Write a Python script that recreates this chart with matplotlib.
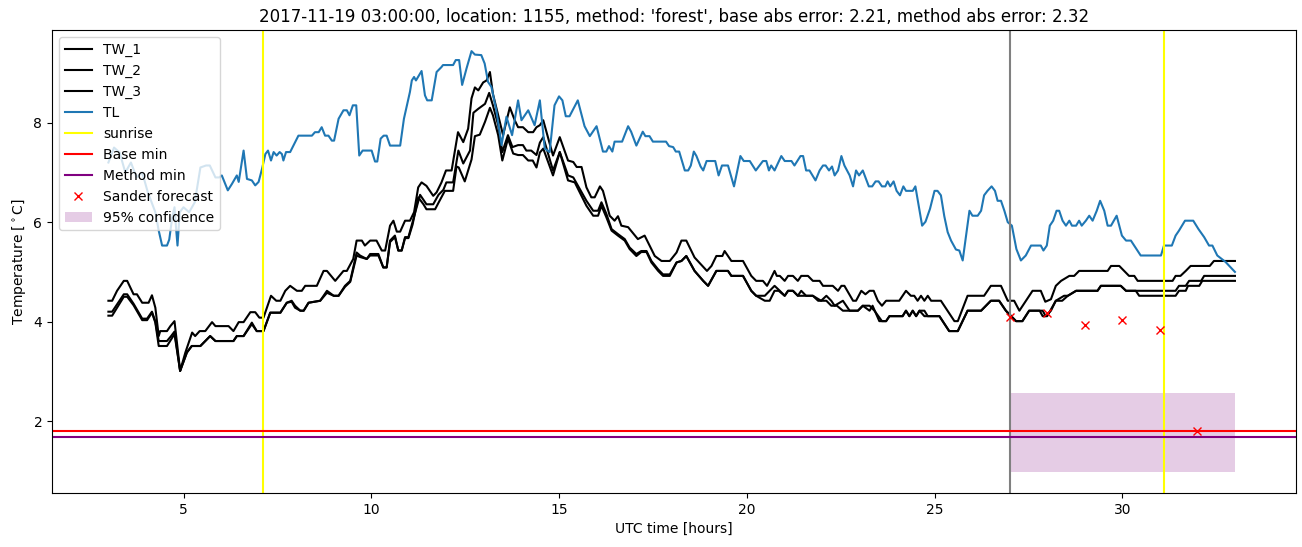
import matplotlib
matplotlib.use("Agg")
import matplotlib.pyplot as plt

# ---------------- data ----------------
tl_hours = [3.00, 3.15, 3.30, 3.45, 3.60, 3.75, 3.90, 4.05, 4.15, 4.25, 4.34, 4.43, 4.56, 4.62, 4.70, 4.76,
            4.80, 4.84, 4.90, 5.00, 5.15, 5.30, 5.45, 5.60, 5.70, 5.85, 5.95, 6.02, 6.18, 6.29, 6.42, 6.47,
            6.60, 6.69, 6.82, 6.91, 7.00, 7.09, 7.18, 7.25, 7.33, 7.40, 7.48, 7.56, 7.62, 7.66, 7.73, 7.84,
            8.06, 8.42, 8.50, 8.60, 8.68, 8.77, 8.86, 8.95, 9.01, 9.13, 9.26, 9.35, 9.42, 9.51, 9.60, 9.68,
            9.77, 10.01, 10.10, 10.16, 10.25, 10.33, 10.41, 10.50, 10.77, 10.87, 11.03, 11.08, 11.14, 11.19,
            11.34, 11.43, 11.49, 11.61, 11.74, 11.87, 11.91, 12.18, 12.25, 12.34, 12.42, 12.54, 12.67, 12.76,
            12.93, 13.02, 13.11, 13.20, 13.33, 13.47, 13.60, 13.75, 13.91, 14.00, 14.18, 14.35, 14.49, 14.62,
            14.75, 14.88, 15.00, 15.09, 15.18, 15.28, 15.50, 15.68, 15.82, 16.00, 16.17, 16.26, 16.33, 16.42,
            16.48, 16.68, 16.84, 16.92, 17.06, 17.23, 17.30, 17.41, 17.50, 17.85, 17.93, 18.04, 18.11, 18.20,
            18.35, 18.44, 18.51, 18.59, 18.66, 18.77, 18.84, 18.93, 19.16, 19.25, 19.34, 19.50, 19.66, 19.83,
            19.92, 20.08, 20.24, 20.43, 20.52, 20.59, 20.65, 20.74, 20.92, 21.01, 21.19, 21.27, 21.43, 21.50,
            21.58, 21.67, 21.83, 21.94, 22.03, 22.10, 22.19, 22.27, 22.34, 22.43, 22.52, 22.60, 22.74, 22.83,
            22.91, 22.99, 23.09, 23.25, 23.34, 23.43, 23.51, 23.60, 23.69, 23.75, 23.82, 23.91, 23.99, 24.08,
            24.17, 24.24, 24.42, 24.49, 24.58, 24.67, 24.76, 24.88, 25.00, 25.08, 25.17, 25.26, 25.35, 25.44,
            25.57, 25.66, 25.75, 25.84, 25.93, 26.01, 26.15, 26.24, 26.32, 26.41, 26.52, 26.61, 26.68, 26.77,
            26.86, 26.95, 27.06, 27.18, 27.30, 27.43, 27.57, 27.83, 27.90, 27.99, 28.07, 28.16, 28.25, 28.32,
            28.41, 28.50, 28.59, 28.66, 28.77, 28.85, 28.92, 29.03, 29.12, 29.21, 29.32, 29.41, 29.52, 29.61,
            29.70, 29.85, 29.99, 30.10, 30.23, 30.49, 31.03, 31.11, 31.32, 31.42, 31.51, 31.67, 31.89, 32.03,
            32.18, 32.31, 32.40, 32.53, 32.75, 33.00]
tl_values = [7.20, 7.50, 7.40, 7.00, 7.20, 6.90, 7.00, 6.60, 6.40, 6.20, 5.83, 5.53, 5.53, 5.65, 6.10, 6.30,
             5.90, 5.53, 6.20, 6.30, 6.20, 6.40, 7.10, 7.14, 7.14, 6.90, 6.90, 6.94, 6.64, 6.77, 6.94, 6.81,
             7.44, 6.87, 6.84, 6.74, 6.81, 7.07, 7.37, 7.44, 7.24, 7.41, 7.34, 7.41, 7.37, 7.24, 7.41, 7.41,
             7.74, 7.74, 7.81, 7.81, 7.91, 7.74, 7.74, 7.64, 7.64, 8.08, 8.25, 8.25, 8.15, 8.35, 8.35, 7.34,
             7.44, 7.44, 7.22, 7.22, 7.68, 7.74, 7.74, 7.54, 7.54, 8.08, 8.62, 8.85, 8.92, 8.85,
             9.04, 8.55, 8.45, 8.45, 9.02, 9.12, 9.16, 9.16, 9.26, 9.26, 8.76, 9.10, 9.44, 9.37,
             9.36, 9.19, 8.82, 8.72, 8.25, 7.55, 8.12, 7.75, 8.45, 8.05, 8.25, 7.95, 8.45, 7.48,
             7.41, 8.35, 8.53, 8.45, 8.13, 8.13, 8.45, 7.93, 7.73, 7.93, 7.42, 7.42, 7.53, 7.42,
             7.62, 7.62, 7.93, 7.82, 7.54, 7.82, 7.73, 7.73, 7.62, 7.62, 7.53, 7.51, 7.42, 7.42,
             7.04, 7.04, 7.14, 7.42, 7.33, 7.12, 7.04, 7.23, 7.23, 6.94, 7.14, 7.14, 6.72, 7.33,
             7.23, 7.23, 7.04, 7.23, 7.23, 7.04, 7.14, 7.04, 7.33, 7.23, 7.23, 7.14, 7.33, 7.33,
             7.04, 7.04, 6.84, 7.04, 7.14, 7.14, 7.04, 7.12, 6.94, 7.04, 7.33, 7.14, 6.94, 6.72,
             7.04, 6.94, 7.04, 6.72, 6.72, 6.82, 6.82, 6.72, 6.72, 6.82, 6.72, 6.82, 6.63, 6.54,
             6.72, 6.63, 6.63, 6.72, 6.33, 5.93, 6.01, 6.27, 6.63, 6.63, 6.54, 6.12, 5.80, 5.63,
             5.45, 5.43, 5.23, 5.73, 6.23, 6.13, 6.13, 6.23, 6.54, 6.63, 6.72, 6.63, 6.43, 6.43,
             6.23, 6.00, 5.93, 5.46, 5.23, 5.33, 5.53, 5.53, 5.43, 5.53, 5.93, 6.03, 6.23, 6.23,
             6.03, 5.93, 6.03, 5.93, 5.93, 6.03, 5.93, 6.03, 6.13, 6.03, 6.23, 6.43, 6.23, 5.93,
             5.93, 6.13, 5.73, 5.63, 5.63, 5.33, 5.33, 5.53, 5.53, 5.73, 5.83, 6.03, 6.03, 5.86,
             5.70, 5.53, 5.53, 5.33, 5.20, 5.00]

tw1_hours = [3.00, 3.10, 3.23, 3.41, 3.50, 3.67, 3.76, 3.90, 4.07, 4.16, 4.25, 4.34, 4.38, 4.56, 4.65, 4.76,
             4.91, 5.05, 5.23, 5.31, 5.43, 5.58, 5.76, 5.85, 6.20, 6.33, 6.47, 6.60, 6.78, 6.91, 7.02, 7.13,
             7.33, 7.47, 7.58, 7.71, 7.84, 8.02, 8.15, 8.24, 8.55, 8.73, 8.82, 9.04, 9.26, 9.35, 9.52, 9.61,
             9.75, 9.83, 9.97, 10.14, 10.28, 10.37, 10.50, 10.59, 10.68, 10.77, 10.90, 11.03, 11.14, 11.25,
             11.34, 11.47, 11.65, 11.74, 11.87, 11.99, 12.14, 12.31, 12.45, 12.58, 12.67, 12.76, 12.85, 12.98,
             13.07, 13.16, 13.24, 13.38, 13.51, 13.69, 13.82, 13.91, 14.04, 14.18, 14.31, 14.40, 14.49, 14.58,
             14.84, 15.02, 15.24, 15.38, 15.47, 15.60, 15.73, 15.86, 15.95, 16.09, 16.17, 16.35, 16.48, 16.57,
             16.66, 16.84, 17.10, 17.28, 17.55, 17.73, 17.95, 18.13, 18.26, 18.39, 18.61, 18.94, 19.06, 19.19,
             19.35, 19.41, 19.59, 19.90, 20.12, 20.25, 20.43, 20.54, 20.61, 20.74, 20.80, 20.88, 21.01, 21.10,
             21.23, 21.36, 21.45, 21.63, 21.76, 21.94, 22.03, 22.29, 22.43, 22.52, 22.60, 22.83, 22.91, 23.05,
             23.16, 23.27, 23.38, 23.49, 23.60, 23.71, 24.06, 24.24, 24.37, 24.46, 24.55, 24.64, 24.73, 24.82,
             24.91, 25.17, 25.53, 25.62, 25.88, 26.32, 26.50, 26.77, 26.95, 27.12, 27.26, 27.61, 27.83, 27.95,
             28.10, 28.23, 28.37, 28.59, 28.72, 28.85, 29.61, 29.70, 29.92, 30.05, 30.18, 30.32, 30.41, 31.34,
             31.42, 31.55, 31.69, 31.82, 32.33, 32.44, 33.00]
tw1_values = [4.42, 4.42, 4.62, 4.82, 4.82, 4.55, 4.55, 4.38, 4.38, 4.53, 4.28, 3.71, 3.81, 3.81, 3.91, 4.01,
              3.01, 3.38, 3.78, 3.71, 3.81, 3.81, 3.99, 3.91, 3.91, 3.81, 3.99, 3.99, 4.19, 4.19, 4.08, 4.08,
              4.52, 4.42, 4.42, 4.62, 4.72, 4.62, 4.62, 4.72, 4.72, 5.02, 5.02, 4.82, 5.02, 5.02, 5.26, 5.63,
              5.63, 5.53, 5.63, 5.63, 5.43, 5.43, 5.93, 6.03, 5.81, 5.81, 6.03, 6.03, 6.20, 6.70,
              6.80, 6.73, 6.53, 6.60, 6.80, 7.04, 7.04, 7.81, 7.61, 7.88, 8.49, 8.71, 8.65, 8.81,
              8.85, 9.02, 8.58, 8.15, 7.75, 8.31, 8.05, 7.91, 7.91, 7.81, 7.81, 7.91, 7.95, 8.05,
              7.34, 7.71, 7.24, 7.21, 7.11, 7.11, 6.70, 6.50, 6.50, 6.72, 6.63, 6.13, 6.03, 6.12,
              5.93, 5.90, 5.66, 5.73, 5.32, 5.22, 5.22, 5.39, 5.63, 5.63, 5.29, 5.02, 5.12, 5.32,
              5.32, 5.42, 5.22, 5.22, 4.92, 4.82, 4.82, 4.72, 4.82, 5.02, 4.92, 4.92, 4.82, 4.92,
              4.92, 4.82, 4.92, 4.92, 4.82, 4.82, 4.72, 4.72, 4.62, 4.72, 4.72, 4.42, 4.42, 4.62,
              4.55, 4.62, 4.62, 4.42, 4.32, 4.42, 4.42, 4.62, 4.52, 4.52, 4.42, 4.52, 4.42, 4.52,
              4.42, 4.42, 4.01, 4.01, 4.52, 4.52, 4.72, 4.72, 4.42, 4.42, 4.22, 4.62, 4.62, 4.40,
              4.45, 4.72, 4.82, 4.92, 4.92, 5.02, 5.02, 5.12, 5.12, 5.02, 4.92, 4.92, 4.82, 4.82,
              4.92, 4.92, 5.02, 5.12, 5.12, 5.22, 5.22]

tw2_hours = [3.00, 3.10, 3.41, 3.50, 3.67, 3.90, 4.03, 4.16, 4.25, 4.34, 4.56, 4.67, 4.76, 4.91, 5.09, 5.22,
             5.45, 5.71, 5.85, 6.33, 6.42, 6.60, 6.82, 6.95, 7.13, 7.31, 7.58, 7.75, 7.88, 7.97, 8.11, 8.20,
             8.33, 8.64, 8.82, 9.00, 9.13, 9.30, 9.44, 9.61, 9.70, 9.88, 9.97, 10.19, 10.32, 10.41, 10.50,
             10.63, 10.72, 10.81, 10.90, 10.99, 11.10, 11.30, 11.47, 11.65, 11.79, 11.92, 12.00, 12.18, 12.32,
             12.45, 12.63, 12.72, 12.85, 13.03, 13.14, 13.24, 13.38, 13.49, 13.64, 13.76, 13.91, 14.04, 14.13,
             14.26, 14.40, 14.49, 14.58, 14.84, 15.02, 15.24, 15.38, 15.73, 15.91, 16.04, 16.13, 16.26, 16.40,
             16.57, 16.75, 16.88, 17.06, 17.19, 17.33, 17.46, 17.64, 17.77, 17.95, 18.13, 18.26, 18.39, 18.61,
             18.84, 18.97, 19.19, 19.50, 19.59, 19.90, 20.12, 20.25, 20.48, 20.74, 20.88, 21.01, 21.10, 21.23,
             21.36, 21.45, 21.58, 21.76, 21.98, 22.12, 22.25, 22.34, 22.56, 22.74, 22.96, 23.09, 23.27, 23.35,
             23.53, 23.71, 23.80, 24.15, 24.24, 24.33, 24.42, 24.51, 24.60, 24.73, 24.82, 25.13, 25.39, 25.62,
             25.88, 26.24, 26.50, 26.72, 26.90, 27.17, 27.34, 27.52, 27.88, 27.96, 28.10, 28.23, 28.45, 28.55,
             28.77, 29.34, 29.43, 29.96, 30.10, 30.36, 30.45, 31.42, 31.51, 31.69, 31.75, 32.05, 32.13, 33.00]
tw2_values = [4.20, 4.20, 4.55, 4.55, 4.36, 4.06, 4.06, 4.20, 4.00, 3.61, 3.61, 3.71, 3.80, 3.01, 3.38, 3.51,
              3.51, 3.71, 3.61, 3.61, 3.71, 3.71, 3.98, 3.81, 3.81, 4.18, 4.18, 4.38, 4.42, 4.32, 4.22, 4.22,
              4.38, 4.42, 4.62, 4.52, 4.52, 4.72, 4.82, 5.39, 5.33, 5.26, 5.36, 5.36, 5.09, 5.09, 5.63,
              5.73, 5.43, 5.43, 5.70, 5.70, 6.00, 6.55, 6.36, 6.36, 6.55, 6.65, 6.80, 6.80, 7.44,
              7.18, 7.44, 8.20, 8.28, 8.38, 8.60, 8.35, 7.95, 7.41, 7.75, 7.51, 7.55, 7.55, 7.44,
              7.44, 7.35, 7.60, 7.71, 7.04, 7.41, 6.94, 6.90, 6.43, 6.23, 6.23, 6.40, 6.17, 5.86,
              5.76, 5.66, 5.49, 5.36, 5.42, 5.42, 5.22, 5.05, 4.95, 4.95, 5.19, 5.22, 5.32, 5.02,
              4.82, 4.72, 5.02, 5.02, 4.92, 4.92, 4.62, 4.52, 4.52, 4.72, 4.62, 4.52, 4.62, 4.62,
              4.52, 4.62, 4.52, 4.52, 4.42, 4.52, 4.42, 4.32, 4.42, 4.22, 4.22, 4.32, 4.22, 4.32,
              4.01, 4.01, 4.11, 4.11, 4.22, 4.11, 4.22, 4.11, 4.22, 4.22, 4.11, 4.11, 3.81, 3.81,
              4.22, 4.22, 4.42, 4.42, 4.22, 4.01, 4.01, 4.22, 4.22, 4.11, 4.22, 4.42, 4.52, 4.52,
              4.62, 4.62, 4.72, 4.72, 4.62, 4.62, 4.52, 4.52, 4.62, 4.62, 4.72, 4.72, 4.82, 4.82]

tw3_hours = [3.00, 3.10, 3.41, 3.50, 3.67, 3.90, 4.03, 4.16, 4.25, 4.34, 4.56, 4.67, 4.76, 4.91, 5.09, 5.22,
             5.45, 5.71, 5.85, 6.33, 6.42, 6.60, 6.82, 6.95, 7.13, 7.31, 7.58, 7.75, 7.88, 7.97, 8.11, 8.20,
             8.33, 8.64, 8.82, 9.00, 9.13, 9.30, 9.44, 9.61, 9.70, 9.88, 9.97, 10.19, 10.32, 10.41, 10.50,
             10.63, 10.72, 10.81, 10.90, 10.99, 11.10, 11.25, 11.39, 11.47, 11.70, 11.79, 11.96, 12.18, 12.27,
             12.33, 12.49, 12.67, 12.76, 12.89, 13.03, 13.16, 13.24, 13.38, 13.49, 13.64, 13.78, 13.91, 14.04,
             14.18, 14.30, 14.40, 14.49, 14.58, 14.84, 15.02, 15.24, 15.42, 15.73, 15.91, 16.04, 16.13, 16.26,
             16.40, 16.57, 16.75, 16.88, 17.06, 17.19, 17.33, 17.46, 17.64, 17.77, 17.95, 18.13, 18.26, 18.39,
             18.61, 18.84, 18.97, 19.19, 19.50, 19.59, 19.90, 20.12, 20.25, 20.48, 20.61, 20.74, 20.85, 21.01,
             21.10, 21.23, 21.36, 21.50, 21.76, 21.90, 22.12, 22.25, 22.40, 22.56, 22.74, 22.96, 23.09, 23.27,
             23.40, 23.60, 23.71, 23.80, 24.15, 24.24, 24.33, 24.42, 24.51, 24.60, 24.73, 25.13, 25.39, 25.62,
             25.88, 26.24, 26.50, 26.72, 26.90, 27.17, 27.34, 27.52, 27.80, 27.88, 28.00, 28.23, 28.40, 28.55,
             28.77, 29.34, 29.43, 29.96, 30.10, 30.36, 30.67, 31.42, 31.51, 31.69, 31.78, 32.10, 32.18, 33.00]
tw3_values = [4.12, 4.12, 4.50, 4.50, 4.33, 4.03, 4.03, 4.18, 3.98, 3.51, 3.51, 3.64, 3.75, 3.01, 3.38, 3.51,
              3.51, 3.71, 3.61, 3.61, 3.71, 3.71, 3.95, 3.81, 3.81, 4.18, 4.18, 4.38, 4.40, 4.28, 4.22, 4.22,
              4.38, 4.42, 4.58, 4.52, 4.52, 4.70, 4.80, 5.33, 5.30, 5.26, 5.33, 5.33, 5.09, 5.09, 5.60,
              5.70, 5.43, 5.43, 5.68, 5.68, 5.95, 6.50, 6.36, 6.26, 6.26, 6.39, 6.63, 6.63, 7.12,
              7.10, 6.82, 7.26, 7.73, 7.76, 8.02, 8.30, 8.15, 7.75, 7.24, 7.68, 7.38, 7.35, 7.35,
              7.24, 7.24, 7.10, 7.40, 7.48, 6.94, 7.41, 6.84, 6.80, 6.33, 6.13, 6.13, 6.33, 6.10,
              5.83, 5.73, 5.63, 5.46, 5.32, 5.40, 5.40, 5.19, 5.02, 4.92, 4.92, 5.19, 5.22, 5.32,
              5.02, 4.82, 4.72, 5.02, 5.02, 4.92, 4.92, 4.62, 4.52, 4.42, 4.42, 4.62, 4.62, 4.52,
              4.62, 4.62, 4.52, 4.52, 4.52, 4.42, 4.42, 4.32, 4.32, 4.22, 4.22, 4.22, 4.32, 4.32,
              4.22, 4.01, 4.01, 4.11, 4.11, 4.22, 4.11, 4.22, 4.11, 4.22, 4.11, 4.11, 3.81, 3.81,
              4.22, 4.22, 4.42, 4.42, 4.22, 4.01, 4.01, 4.22, 4.22, 4.11, 4.11, 4.42, 4.42, 4.52,
              4.62, 4.62, 4.72, 4.72, 4.62, 4.62, 4.62, 4.62, 4.72, 4.72, 4.82, 4.82, 4.92, 4.92]

sunrise_hours = [7.12, 31.1]
forecast_start = 27.0
base_min = 1.80
method_min = 1.68
sander_hours = [27, 28, 29, 30, 31, 32]
sander_values = [4.10, 4.18, 3.93, 4.04, 3.83, 1.80]
conf_hours = [27, 33]
conf_low = 0.98
conf_high = 2.57

title = ("2017-11-19 03:00:00, location: 1155, method: 'forest', "
         "base abs error: 2.21, method abs error: 2.32")

# ---------------- plot ----------------
fig = plt.figure(figsize=(13.02, 5.47), dpi=100)
ax = fig.add_axes([0.040, 0.099, 0.9555, 0.846])

ax.plot(tw1_hours, tw1_values, color="black", label="TW_1")
ax.plot(tw2_hours, tw2_values, color="black", label="TW_2")
ax.plot(tw3_hours, tw3_values, color="black", label="TW_3")
ax.plot(tl_hours, tl_values, color="#1f77b4", label="TL")
for i, h in enumerate(sunrise_hours):
    ax.axvline(h, color="yellow", label="sunrise" if i == 0 else None)
ax.axvline(forecast_start, color="gray")
ax.axhline(base_min, color="red", label="Base min")
ax.axhline(method_min, color="purple", label="Method min")
ax.plot(sander_hours, sander_values, "x", color="red", label="Sander forecast")
ax.fill_between(conf_hours, [conf_low] * 2, [conf_high] * 2, color="purple",
                alpha=0.2, linewidth=0, label="95% confidence")

ax.set_xlim(1.5, 34.63)
ax.set_title(title)
ax.set_xlabel("UTC time [hours]")
ax.set_ylabel(r"Temperature [$^\circ$C]")
ax.legend(loc="upper left")

fig.savefig("out.png", dpi=100)
